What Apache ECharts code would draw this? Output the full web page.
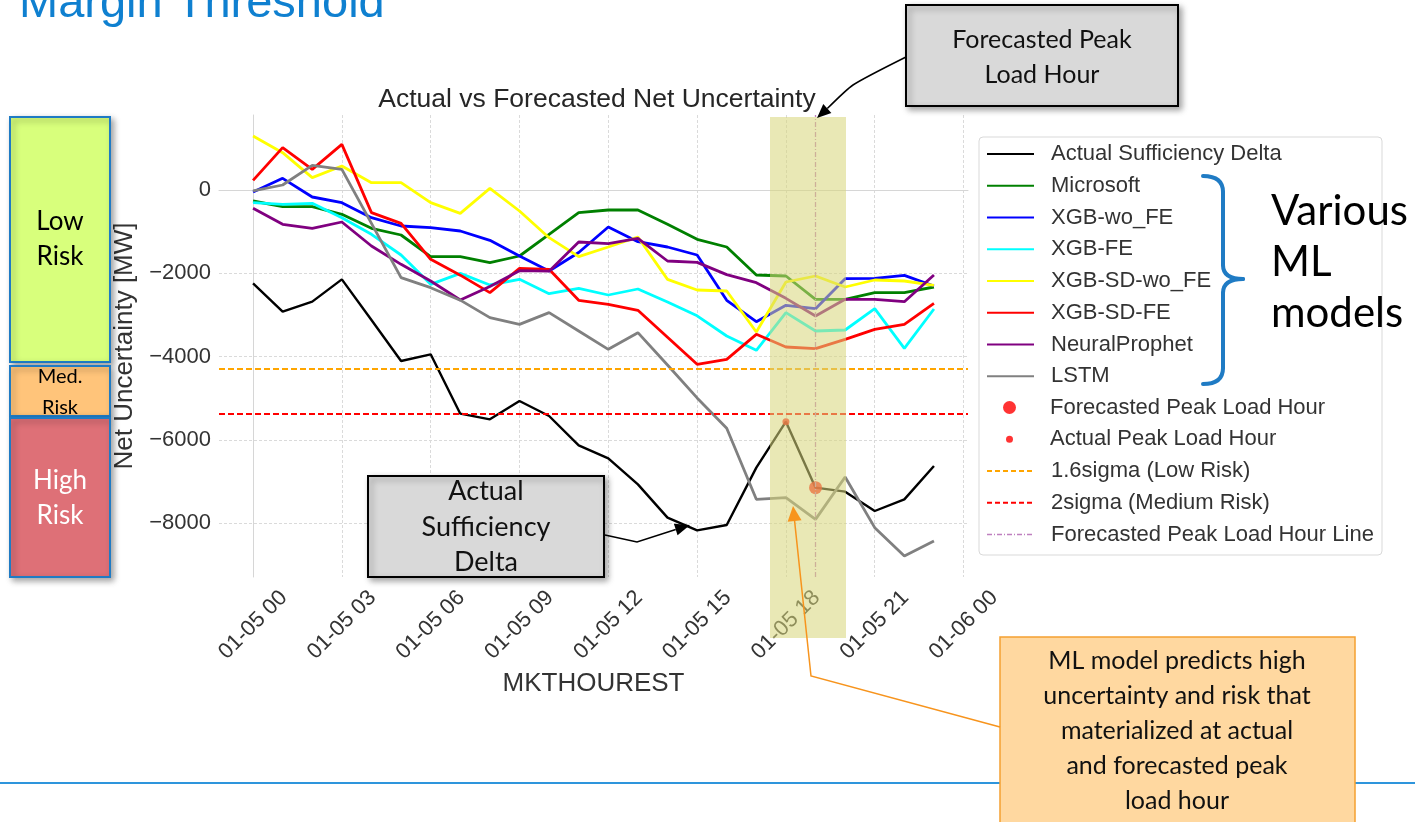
<!DOCTYPE html>
<html><head><meta charset="utf-8">
<script src="https://cdn.jsdelivr.net/npm/echarts@6/dist/echarts.min.js"></script>
<style>html,body{margin:0;padding:0;background:#fff;}#c{width:1415px;height:822px;}</style>
</head><body><div id="c"></div>
<script>
// ---------- data ----------
const hours = [0,1,2,3,4,5,6,7,8,9,10,11,12,13,14,15,16,17,18,19,20,21,22,23];
const actualDelta   = [-2240,-2920,-2680,-2144,-3120,-4104,-3944,-5368,-5504,-5064,-5424,-6128,-6440,-7064,-7864,-8168,-8040,-6664,-5560,-7144,-7240,-7704,-7424,-6624];
const microsoft     = [-264,-400,-400,-584,-920,-1080,-1600,-1600,-1744,-1584,-1064,-544,-480,-480,-824,-1184,-1368,-2040,-2064,-2624,-2624,-2464,-2464,-2328];
const xgbWoFE       = [-48,280,-168,-304,-664,-864,-904,-984,-1208,-1584,-1944,-1500,-888,-1240,-1368,-1560,-2648,-3160,-2768,-2848,-2128,-2120,-2048,-2304];
const xgbFE         = [-304,-344,-320,-664,-1064,-1560,-2264,-2000,-2280,-2144,-2488,-2360,-2520,-2376,-2690,-3020,-3504,-3848,-2944,-3384,-3360,-2848,-3800,-2856];
const xgbSDwoFE     = [1296,896,296,576,176,176,-304,-560,40,-504,-1144,-1600,-1368,-1128,-2144,-2400,-2424,-3408,-2208,-2064,-2328,-2160,-2184,-2288];
const xgbSDFE       = [232,1016,496,1096,-544,-800,-1664,-2044,-2464,-1880,-1904,-2648,-2744,-2888,-3536,-4184,-4064,-3464,-3768,-3808,-3584,-3344,-3224,-2720];
const neuralProphet = [-440,-824,-920,-768,-1344,-1784,-2184,-2640,-2316,-1936,-1948,-1248,-1288,-1160,-1704,-1736,-2032,-2224,-2600,-3024,-2624,-2624,-2680,-2040];
const lstm          = [-20,120,592,496,-800,-2104,-2344,-2644,-3064,-3224,-2944,-3384,-3824,-3424,-4200,-4990,-5720,-7424,-7384,-7904,-6888,-8104,-8784,-8424];
const sigmaLowRisk = -4288;   // 1.6 sigma
const sigmaMedRisk = -5360;   // 2 sigma
const actualPeakHour = 18;
const forecastPeakHour = 19;
const tickHours  = [0,3,6,9,12,15,18,21,24];
const tickLabels = ['01-05 00','01-05 03','01-05 06','01-05 09','01-05 12','01-05 15','01-05 18','01-05 21','01-06 00'];

const FONT = 'Liberation Sans';

function lineSeries(name, vals, color, width) {
  return { name, type: 'line', data: hours.map((h, i) => [h, vals[i]]), symbol: 'none', silent: true,
    lineStyle: { color, width }, itemStyle: { color }, z: 2, animation: false };
}
function refLine(name, color, dash, width, mark) {
  return { name, type: 'line', data: [], symbol: 'none', silent: true,
    lineStyle: { color, width, type: dash }, itemStyle: { color },
    markLine: { silent: true, symbol: 'none', label: { show: false }, animation: false,
      lineStyle: { color, width, type: dash }, emphasis: { disabled: true }, data: [mark] } };
}
function arrow(pts, color, w, L, W, z, smooth) {
  const n = pts.length, t = pts[n - 1], p = pts[n - 2];
  let dx = t[0] - p[0], dy = t[1] - p[1]; const d = Math.hypot(dx, dy); dx /= d; dy /= d;
  const bx = t[0] - dx * L, by = t[1] - dy * L;
  const line = pts.slice(0, n - 1).concat([[bx, by]]);
  return [
    { type: 'polyline', z, silent: true, shape: { points: line, smooth: smooth || 0 }, style: { stroke: color, lineWidth: w, fill: null } },
    { type: 'polygon', z, silent: true, shape: { points: [t, [bx - dy * W, by + dx * W], [bx + dy * W, by - dx * W]] }, style: { fill: color } }
  ];
}
const shadow = { shadowBlur: 6, shadowOffsetX: 3, shadowOffsetY: 3, shadowColor: 'rgba(0,0,0,0.35)' };
const braceStyle = { stroke: '#1F7BC4', lineWidth: 4, fill: null, lineCap: 'round' };
function bez(x1, y1, cx, cy, x2, y2) { return { type: 'bezierCurve', z: 10, silent: true, shape: { x1, y1, cpx1: cx, cpy1: cy, x2, y2 }, style: braceStyle }; }
function seg(x1, y1, x2, y2) { return { type: 'line', z: 10, silent: true, shape: { x1, y1, x2, y2 }, style: braceStyle }; }

const legendBase = { orient: 'vertical', left: 981, itemWidth: 47, itemGap: 9.75, selectedMode: false,
  textStyle: { fontFamily: FONT, fontSize: 22, color: '#333', lineHeight: 22, padding: [0, 0, 0, 12] } };

const lineNames = ['Actual Sufficiency Delta','Microsoft','XGB-wo_FE','XGB-FE','XGB-SD-wo_FE','XGB-SD-FE','NeuralProphet','LSTM'];

const option = {
  backgroundColor: '#fff',
  animation: false,
  grid: { left: 219, top: 115, width: 749, height: 462, containLabel: false, outerBoundsMode: 'none' },
  xAxis: {
    type: 'value', min: -1.15, max: 24.15, splitNumber: 8,
    axisLine: { show: true, lineStyle: { color: '#d6d6d6', width: 1 } },
    axisTick: { show: false },
    splitLine: { show: true, showMinLine: false, showMaxLine: false, lineStyle: { color: '#dadada', width: 1, type: [3, 2] } },
    axisLabel: { rotate: 45, align: 'center', verticalAlign: 'middle', margin: 48, fontFamily: FONT, fontSize: 22, color: '#333',
      showMinLabel: false, showMaxLabel: false,
      formatter: v => { const i = tickHours.findIndex(h => Math.abs(h - v) < 1e-6); return i >= 0 ? tickLabels[i] : ''; } },
    name: 'MKTHOUREST', nameLocation: 'middle', nameGap: 93,
    nameTextStyle: { fontFamily: FONT, fontSize: 26, color: '#333' }
  },
  yAxis: {
    type: 'value', min: -9288, max: 1800, splitNumber: 5,
    axisLine: { show: true, lineStyle: { color: '#d6d6d6', width: 1 } },
    axisTick: { show: false },
    splitLine: { show: true, showMinLine: false, showMaxLine: false, lineStyle: { color: '#dadada', width: 1, type: [3, 2] } },
    axisLabel: { margin: 8, fontFamily: FONT, fontSize: 22, color: '#333', showMinLabel: false, showMaxLabel: false,
      formatter: v => (v < 0 ? '\u2212' + Math.abs(v) : String(v)) },
    name: 'Net Uncertainty [MW]', nameLocation: 'middle', nameGap: 79,
    nameTextStyle: { fontFamily: FONT, fontSize: 26, color: '#333' }
  },
  legend: [
    Object.assign({}, legendBase, { top: 138, itemHeight: 14, data: lineNames, itemStyle: { opacity: 0 } }),
    Object.assign({}, legendBase, { top: 391.5, left: 998, itemHeight: 13, data: ['Forecasted Peak Load Hour'] }),
    Object.assign({}, legendBase, { top: 423.2, left: 1001, itemHeight: 7, data: ['Actual Peak Load Hour'] }),
    Object.assign({}, legendBase, { top: 455, itemHeight: 14, itemStyle: { opacity: 0 },
      data: [ { name: '1.6sigma (Low Risk)', lineStyle: { type: [5, 3] } },
              { name: '2sigma (Medium Risk)', lineStyle: { type: [5, 3] } },
              { name: 'Forecasted Peak Load Hour Line', lineStyle: { type: [5, 2, 1, 2], width: 1.3 } } ] })
  ],
  series: [
    lineSeries('Actual Sufficiency Delta', actualDelta, '#000000', 2.4),
    lineSeries('Microsoft', microsoft, '#008000', 2.8),
    lineSeries('XGB-wo_FE', xgbWoFE, '#0000FF', 2.8),
    lineSeries('XGB-FE', xgbFE, '#00FFFF', 2.8),
    lineSeries('XGB-SD-wo_FE', xgbSDwoFE, '#FFFF00', 2.8),
    lineSeries('XGB-SD-FE', xgbSDFE, '#FF0000', 2.8),
    lineSeries('NeuralProphet', neuralProphet, '#800080', 2.8),
    lineSeries('LSTM', lstm, '#808080', 2.8),
    { name: 'Forecasted Peak Load Hour', type: 'scatter', silent: true, z: 4, symbol: 'circle', symbolSize: 13,
      itemStyle: { color: '#FF0000' }, data: [[forecastPeakHour, actualDelta[hours.indexOf(forecastPeakHour)]]] },
    { name: 'Actual Peak Load Hour', type: 'scatter', silent: true, z: 4, symbol: 'circle', symbolSize: 7,
      itemStyle: { color: '#FF0000' }, data: [[actualPeakHour, actualDelta[hours.indexOf(actualPeakHour)]]] },
    refLine('1.6sigma (Low Risk)', '#FFA500', [6, 3], 1.8, { yAxis: sigmaLowRisk }),
    refLine('2sigma (Medium Risk)', '#FF0000', [6, 3], 1.8, { yAxis: sigmaMedRisk }),
    refLine('Forecasted Peak Load Hour Line', '#BF80BF', [5, 2, 1, 2], 1.3, { xAxis: forecastPeakHour })
  ],
  graphic: [
    // slide title (cut at top)
    { type: 'text', x: 19, y: 3.7, z: 10, silent: true, style: { text: 'Margin Threshold', font: '47px "Liberation Sans"', fill: '#0F80D0', verticalAlign: 'middle' } },
    // chart title
    { type: 'text', x: 597, y: 100, z: 10, silent: true, style: { text: 'Actual vs Forecasted Net Uncertainty', font: '26.5px "Liberation Sans"', fill: '#262626', align: 'center', verticalAlign: 'middle' } },
    // bottom rule
    { type: 'line', z: 1, silent: true, shape: { x1: 0, y1: 783, x2: 1415, y2: 783 }, style: { stroke: '#2E95DC', lineWidth: 2 } },
    // legend frame
    { type: 'rect', z: 0, silent: true, shape: { x: 979, y: 137, width: 403, height: 418, r: 4 }, style: { fill: '#fff', stroke: '#d9d9d9', lineWidth: 1 } },
    // risk boxes
    { type: 'rect', z: 10, silent: true, shape: { x: 10, y: 117, width: 100, height: 245 }, style: Object.assign({ fill: '#D8FF7C', stroke: '#1F7BC4', lineWidth: 2 }, shadow) },
    { type: 'text', x: 60, y: 239.2, z: 11, silent: true, style: { text: 'Low\nRisk', font: '26px Lato', fill: '#000', align: 'center', verticalAlign: 'middle', lineHeight: 35 } },
    { type: 'rect', z: 10, silent: true, shape: { x: 10, y: 366, width: 100, height: 50 }, style: Object.assign({ fill: '#FFC47A', stroke: '#1F7BC4', lineWidth: 2 }, shadow) },
    { type: 'text', x: 60, y: 392, z: 11, silent: true, style: { text: 'Med.\nRisk', font: '20px Lato', fill: '#000', align: 'center', verticalAlign: 'middle', lineHeight: 30.7 } },
    { type: 'rect', z: 10, silent: true, shape: { x: 10, y: 418, width: 100, height: 159 }, style: Object.assign({ fill: '#DE7077', stroke: '#1F7BC4', lineWidth: 2 }, shadow) },
    { type: 'text', x: 60, y: 498.5, z: 11, silent: true, style: { text: 'High\nRisk', font: '26px Lato', fill: '#fff', align: 'center', verticalAlign: 'middle', lineHeight: 35 } },
    // Forecasted Peak Load Hour callout
    { type: 'rect', z: 40, silent: true, shape: { x: 906, y: 5, width: 272, height: 101 }, style: Object.assign({ fill: '#D9D9D9', stroke: '#000', lineWidth: 2 }, shadow) },
    { type: 'text', x: 1042, y: 57.8, z: 41, silent: true, style: { text: 'Forecasted Peak\nLoad Hour', font: '25px Lato', fill: '#111', align: 'center', verticalAlign: 'middle', lineHeight: 35 } },
    ...arrow([[906, 57], [853, 85], [817, 118]], '#000', 1.5, 14, 6, 60, 0.2),
    // Actual Sufficiency Delta callout
    { type: 'rect', z: 40, silent: true, shape: { x: 368, y: 476, width: 236, height: 101 }, style: Object.assign({ fill: '#D9D9D9', stroke: '#000', lineWidth: 2 }, shadow) },
    { type: 'text', x: 486, y: 527, z: 41, silent: true, style: { text: 'Actual\nSufficiency\nDelta', font: '27px Lato', fill: '#111', align: 'center', verticalAlign: 'middle', lineHeight: 35.5 } },
    ...arrow([[605, 535], [637, 542], [690, 525]], '#000', 1.5, 15, 6, 60, 0),
    // highlight band (slide overlay)
    { type: 'rect', z: 50, silent: true, shape: { x: 770, y: 117, width: 76, height: 521 }, style: { fill: 'rgba(216,214,123,0.56)' } },
    // ML models brace + text
    bez(1203, 176, 1223, 176, 1223, 192), seg(1223, 192, 1223, 265), bez(1223, 265, 1223, 279, 1243, 279),
    bez(1243, 279, 1223, 279, 1223, 293), seg(1223, 293, 1223, 368), bez(1223, 368, 1223, 384, 1203, 384),
    { type: 'text', x: 1271, y: 262, z: 10, silent: true, style: { text: 'Various\nML\nmodels', font: '42px Lato', fill: '#000', align: 'left', verticalAlign: 'middle', lineHeight: 51 } },
    // ML model predicts ... callout
    { type: 'rect', z: 55, silent: true, shape: { x: 1000, y: 637, width: 355, height: 200 }, style: { fill: '#FFD8A0', stroke: '#F5A030', lineWidth: 1.5 } },
    { type: 'text', x: 1177, y: 731, z: 56, silent: true, style: { text: 'ML model predicts high\nuncertainty and risk that\nmaterialized at actual\nand forecasted peak\nload hour', font: '25px Lato', fill: '#111', align: 'center', verticalAlign: 'middle', lineHeight: 35 } },
    ...arrow([[1000, 727], [811, 676], [793, 506]], '#F7941D', 1.5, 15, 7, 60, 0)
  ]
};
const chart = echarts.init(document.getElementById('c'), null, { renderer: 'canvas' });
chart.setOption(option);
</script></body></html>
